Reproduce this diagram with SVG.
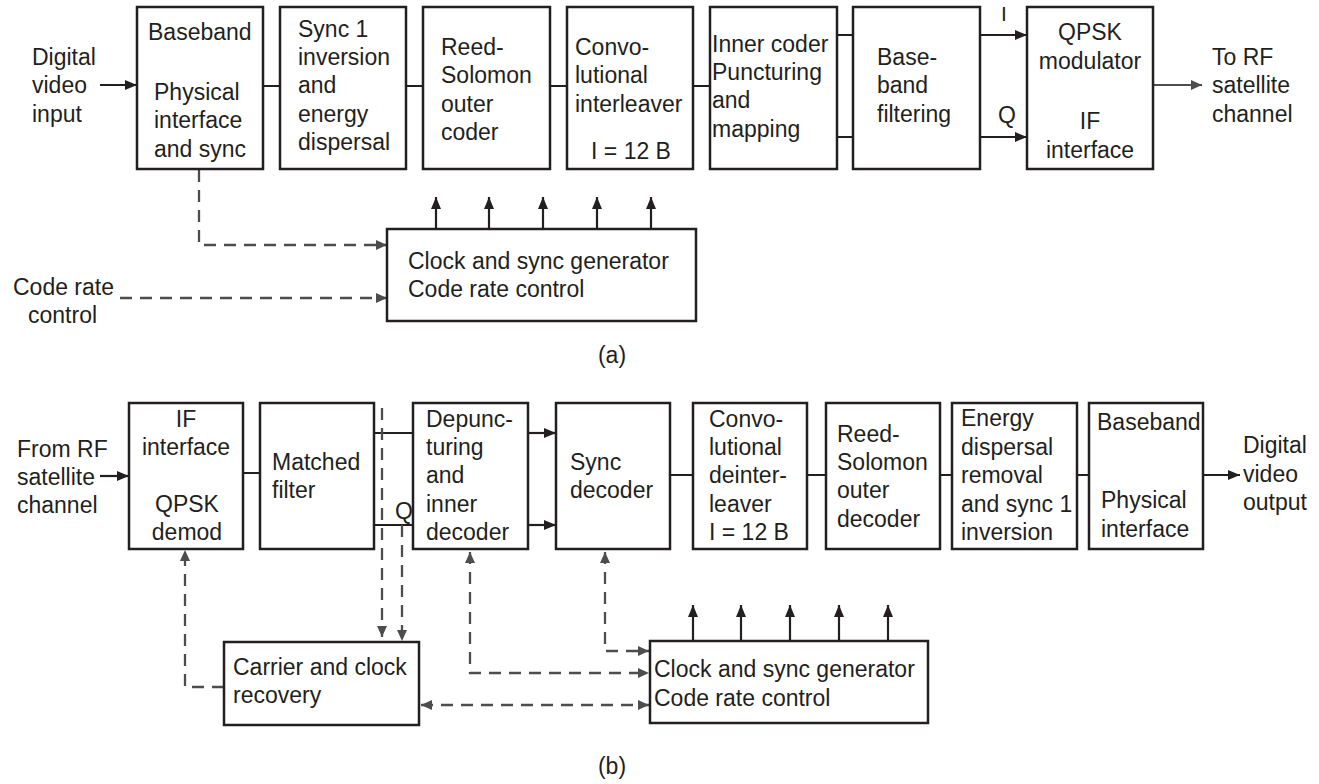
<svg xmlns="http://www.w3.org/2000/svg" width="1319" height="784" viewBox="0 0 1319 784">
<style>
text{font-family:"Liberation Sans",Arial,sans-serif;font-size:23px;fill:#231f20}
.m{text-anchor:middle}
.box{fill:#fff;stroke:#231f20;stroke-width:2.5}
.ln{fill:none;stroke:#231f20;stroke-width:2.2}
.ar{fill:none;stroke:#231f20;stroke-width:2.2;marker-end:url(#ah)}
.gy{fill:none;stroke:#4d4d4d;stroke-width:2.2;marker-end:url(#ag)}
.ds{fill:none;stroke:#4d4d4d;stroke-width:2.3;stroke-dasharray:12 8;marker-end:url(#ag)}
.db{fill:none;stroke:#4d4d4d;stroke-width:2.3;stroke-dasharray:12 8;marker-start:url(#ag);marker-end:url(#ag)}
</style>
<defs>
<marker id="ah" viewBox="0 0 12 10" refX="12" refY="5" markerWidth="12" markerHeight="10" markerUnits="userSpaceOnUse" orient="auto-start-reverse"><path d="M0,0 L12,5 L0,10 z" fill="#231f20"/></marker>
<marker id="ag" viewBox="0 0 11 10" refX="11" refY="5" markerWidth="11" markerHeight="10" markerUnits="userSpaceOnUse" orient="auto-start-reverse"><path d="M0,0 L11,5 L0,10 z" fill="#4d4d4d"/></marker>
</defs>

<g id="connectors">
<path class="ar" d="M100,85 H137"/>
<path class="ln" d="M263,86 H280 M406,86 H423 M550,86 H567 M693,86 H710 M837,35 H853 M837,137 H853"/>
<path class="ar" d="M980,35 H1027"/>
<path class="ar" d="M980,137 H1027"/>
<path class="gy" d="M1153,85 H1202"/>
<path class="ds" d="M199,170 V245 H387"/>
<path class="ds" d="M120,298 H387"/>
<path class="ar" d="M436,229 V197"/>
<path class="ar" d="M489,229 V197"/>
<path class="ar" d="M543,229 V197"/>
<path class="ar" d="M597,229 V197"/>
<path class="ar" d="M651,229 V197"/>

<path class="ar" d="M100,476 H129"/>
<path class="ln" d="M243,473 H260 M374,433 H413 M374,525 H413 M670,475 H693 M807,475 H826 M940,475 H952 M1077,475 H1089"/>
<path class="ar" d="M528,433 H556"/>
<path class="ar" d="M528,525 H556"/>
<path class="ar" d="M1203,475 H1240"/>
<path class="ds" d="M382,408 V637"/>
<path class="ds" d="M402,525 V641"/>
<path class="ds" d="M224,687 H185 V550"/>
<path class="db" d="M470,552 V673 H649"/>
<path class="db" d="M605,552 V651 H649"/>
<path class="db" d="M421,705 H649"/>
<path class="ar" d="M693,641 V605"/>
<path class="ar" d="M741,641 V605"/>
<path class="ar" d="M790,641 V605"/>
<path class="ar" d="M839,641 V605"/>
<path class="ar" d="M888,641 V605"/>
</g>

<g id="label-digital-input">
<text x="32" y="65">Digital</text><text x="32" y="93">video</text><text x="32" y="122">input</text>
</g>
<g id="tx-baseband">
<rect class="box" x="137" y="7" width="126" height="162"/>
<text x="148" y="40">Baseband</text><text x="154" y="100">Physical</text><text x="154" y="128">interface</text><text x="154" y="157">and sync</text>
</g>
<g id="tx-sync1">
<rect class="box" x="280" y="7" width="126" height="162"/>
<text x="298" y="37">Sync 1</text><text x="298" y="65">inversion</text><text x="298" y="93">and</text><text x="298" y="122">energy</text><text x="298" y="150">dispersal</text>
</g>
<g id="tx-rs">
<rect class="box" x="423" y="7" width="127" height="162"/>
<text x="441" y="55">Reed-</text><text x="441" y="83">Solomon</text><text x="441" y="112">outer</text><text x="441" y="140">coder</text>
</g>
<g id="tx-interleaver">
<rect class="box" x="567" y="7" width="126" height="162"/>
<text x="575" y="55">Convo-</text><text x="575" y="83">lutional</text><text x="575" y="112">interleaver</text><text class="m" x="631" y="159">I = 12 B</text>
</g>
<g id="tx-inner">
<rect class="box" x="710" y="7" width="127" height="162"/>
<text x="712" y="52">Inner coder</text><text x="712" y="80">Puncturing</text><text x="712" y="108">and</text><text x="712" y="137">mapping</text>
</g>
<g id="tx-filter">
<rect class="box" x="853" y="7" width="127" height="162"/>
<text x="877" y="65">Base-</text><text x="877" y="93">band</text><text x="877" y="122">filtering</text>
</g>
<g id="tx-iq-labels">
<text x="1001" y="21" style="font-size:21px">I</text><text x="998" y="123">Q</text>
</g>
<g id="tx-qpsk">
<rect class="box" x="1027" y="7" width="126" height="162"/>
<text class="m" x="1090" y="40">QPSK</text><text class="m" x="1090" y="69">modulator</text><text class="m" x="1090" y="129">IF</text><text class="m" x="1090" y="158">interface</text>
</g>
<g id="label-to-rf">
<text x="1212" y="65">To RF</text><text x="1212" y="93">satellite</text><text x="1212" y="122">channel</text>
</g>
<g id="tx-clock">
<rect class="box" x="387" y="229" width="309" height="92"/>
<text x="408" y="269">Clock and sync generator</text><text x="408" y="297">Code rate control</text>
</g>
<g id="label-code-rate">
<text x="13" y="295">Code rate</text><text x="28" y="323">control</text>
</g>
<g id="caption-a"><text class="m" x="612" y="363">(a)</text></g>

<g id="label-from-rf">
<text x="17" y="457">From RF</text><text x="17" y="485">satellite</text><text x="17" y="513">channel</text>
</g>
<g id="rx-if">
<rect class="box" x="129" y="403" width="114" height="146"/>
<text class="m" x="186" y="427">IF</text><text class="m" x="186" y="455">interface</text><text class="m" x="187" y="512">QPSK</text><text class="m" x="187" y="540">demod</text>
</g>
<g id="rx-matched">
<rect class="box" x="260" y="403" width="114" height="146"/>
<text x="272" y="470">Matched</text><text x="272" y="498">filter</text>
</g>
<g id="rx-q-label"><text x="395" y="519">Q</text></g>
<g id="rx-depunc">
<rect class="box" x="413" y="403" width="115" height="146"/>
<text x="426" y="427">Depunc-</text><text x="426" y="455">turing</text><text x="426" y="483">and</text><text x="426" y="512">inner</text><text x="426" y="540">decoder</text>
</g>
<g id="rx-sync">
<rect class="box" x="556" y="403" width="114" height="146"/>
<text x="570" y="470">Sync</text><text x="570" y="498">decoder</text>
</g>
<g id="rx-deinterleaver">
<rect class="box" x="693" y="403" width="114" height="146"/>
<text x="709" y="427">Convo-</text><text x="709" y="455">lutional</text><text x="709" y="483">deinter-</text><text x="709" y="512">leaver</text><text x="709" y="540">I = 12 B</text>
</g>
<g id="rx-rs">
<rect class="box" x="826" y="403" width="114" height="146"/>
<text x="837" y="442">Reed-</text><text x="837" y="470">Solomon</text><text x="837" y="498">outer</text><text x="837" y="527">decoder</text>
</g>
<g id="rx-energy">
<rect class="box" x="952" y="403" width="125" height="146"/>
<text x="961" y="426">Energy</text><text x="961" y="455">dispersal</text><text x="961" y="483">removal</text><text x="961" y="512">and sync 1</text><text x="961" y="540">inversion</text>
</g>
<g id="rx-baseband">
<rect class="box" x="1089" y="403" width="114" height="146"/>
<text x="1097" y="430">Baseband</text><text x="1101" y="508">Physical</text><text x="1101" y="537">interface</text>
</g>
<g id="label-digital-output">
<text x="1243" y="453">Digital</text><text x="1243" y="482">video</text><text x="1243" y="510">output</text>
</g>
<g id="rx-carrier">
<rect class="box" x="224" y="642" width="195" height="83"/>
<text x="233" y="675">Carrier and clock</text><text x="233" y="703">recovery</text>
</g>
<g id="rx-clock">
<rect class="box" x="650" y="641" width="278" height="82"/>
<text x="654" y="677">Clock and sync generator</text><text x="654" y="706">Code rate control</text>
</g>
<g id="caption-b"><text class="m" x="612" y="774">(b)</text></g>
</svg>
